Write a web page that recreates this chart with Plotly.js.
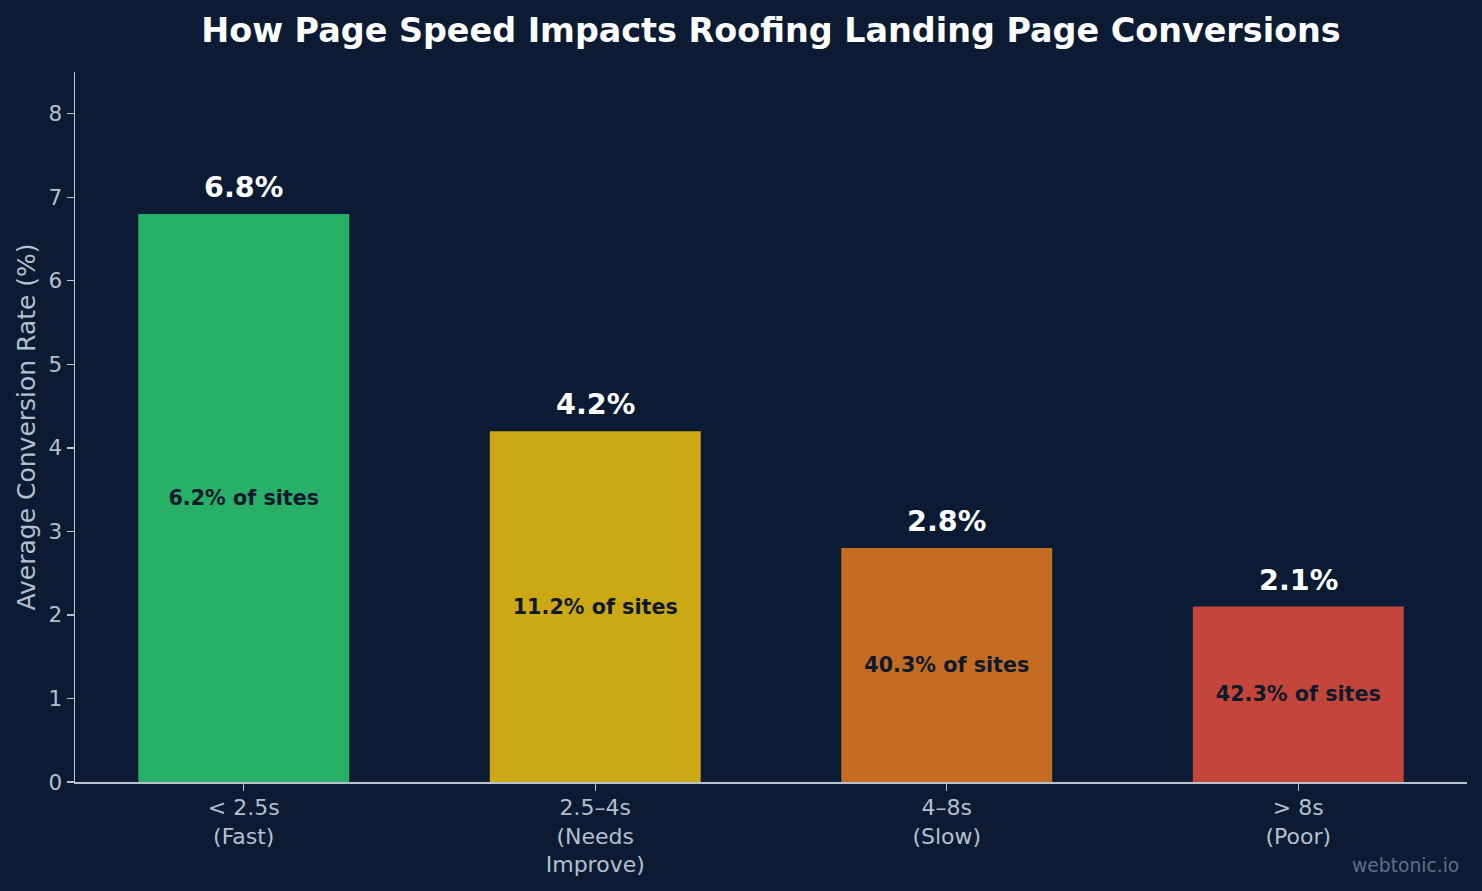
<!DOCTYPE html>
<html>
<head>
<meta charset="utf-8">
<script src="https://cdn.plot.ly/plotly-3.0.1.min.js"></script>
<style>
html,body{margin:0;padding:0;background:#0b1b33;}
#chart{width:1482px;height:891px;}
</style>
</head>
<body>
<div id="chart"></div>
<script>
// Data
const categories = ["&lt; 2.5s<br>(Fast)", "2.5–4s<br>(Needs<br>Improve)", "4–8s<br>(Slow)", "&gt; 8s<br>(Poor)"];
const conversionRates = [6.8, 4.2, 2.8, 2.1];
const shareOfSites = [6.2, 11.2, 40.3, 42.3];
const barColors = ["#29b068", "#cca815", "#c46d22", "#c4453a"];

const xIdx = categories.map((_, i) => i);

const bars = {
  type: "bar",
  x: xIdx,
  y: conversionRates,
  width: 0.6,
  marker: {color: barColors, line: {width: 0}},
  text: shareOfSites.map(s => "<b>" + s.toFixed(1) + "% of sites</b>"),
  textposition: "inside",
  insidetextanchor: "middle",
  textangle: 0,
  textfont: {family: "DejaVu Sans", size: 20.7, color: "#0e1a2c"},
  hoverinfo: "skip",
  cliponaxis: false
};

const annotations = conversionRates.map((v, i) => ({
  x: i, y: v, xref: "x", yref: "y",
  text: "<b>" + v.toFixed(1) + "%</b>",
  showarrow: false,
  yanchor: "bottom",
  yshift: 8,
  font: {family: "DejaVu Sans", size: 28.6, color: "#ffffff"}
}));

annotations.push({
  xref: "paper", yref: "paper",
  x: 1, y: -0.118,
  xanchor: "right", yanchor: "middle",
  xshift: -6,
  text: "webtonic.io",
  showarrow: false,
  font: {family: "DejaVu Sans", size: 18.7, color: "#5f7088"}
});

const layout = {
  width: 1482,
  height: 891,
  paper_bgcolor: "#0b1b33",
  plot_bgcolor: "#0b1b33",
  margin: {l: 75, r: 15, t: 72, b: 109},
  showlegend: false,
  title: {
    text: "<b>How Page Speed Impacts Roofing Landing Page Conversions</b>",
    font: {family: "DejaVu Sans", size: 33.4, color: "#ffffff"},
    x: 771 / 1482, xanchor: "center",
    y: 1 - 30 / 891, yanchor: "middle", yref: "container"
  },
  xaxis: {
    range: [-0.48, 3.48],
    tickmode: "array",
    tickvals: xIdx,
    ticktext: categories,
    showgrid: false,
    zeroline: false,
    showline: true,
    linecolor: "#b8c2d0",
    linewidth: 1.5,
    ticks: "outside",
    ticklen: 7,
    tickwidth: 1.3,
    tickcolor: "#b8c2d0",
    ticklabelstandoff: -2,
    tickfont: {family: "DejaVu Sans", size: 22, color: "#b4c0d0"},
    fixedrange: true
  },
  yaxis: {
    range: [0, 8.5],
    dtick: 1,
    tick0: 0,
    showgrid: false,
    zeroline: false,
    showline: true,
    linecolor: "#b8c2d0",
    linewidth: 1.5,
    ticks: "outside",
    ticklen: 7,
    tickwidth: 1.3,
    tickcolor: "#b8c2d0",
    tickfont: {family: "DejaVu Sans", size: 21.5, color: "#b4c0d0"},
    title: {
      text: "Average Conversion Rate (%)",
      font: {family: "DejaVu Sans", size: 25, color: "#b4c0d0"},
      standoff: 6
    },
    fixedrange: true
  },
  annotations: annotations,
  font: {family: "DejaVu Sans"}
};

Plotly.newPlot("chart", [bars], layout, {displayModeBar: false, staticPlot: true});
</script>
</body>
</html>
